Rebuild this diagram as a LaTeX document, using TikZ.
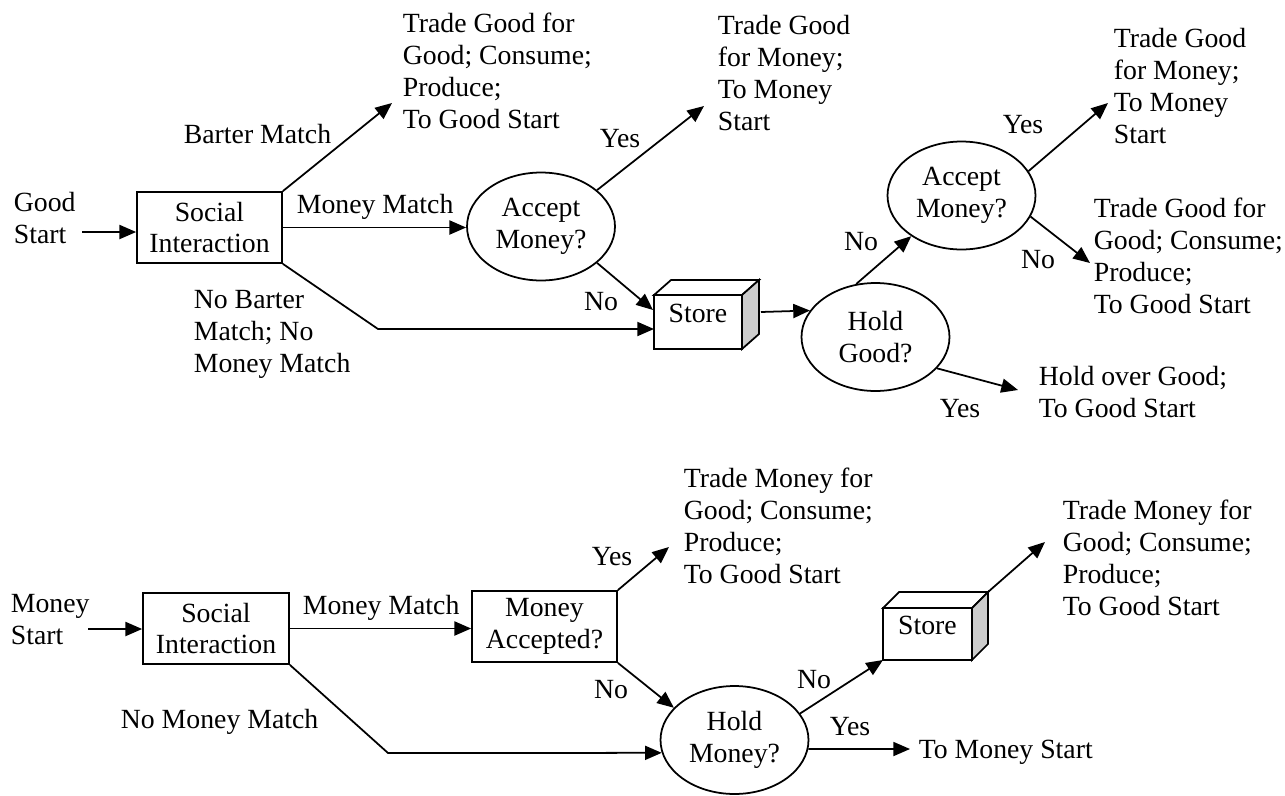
\documentclass[tikz,border=0pt]{standalone}
\usepackage{fontspec}
\setmainfont{Liberation Serif}
\usetikzlibrary{arrows.meta,shapes.geometric}
\begin{document}
\begin{tikzpicture}[x=0.02cm,y=-0.02cm,
  every node/.style={font=\fontsize{15.8pt}{18.2pt}\selectfont, inner sep=0pt},
  line width=1pt,
  arr/.style={-{Triangle[length=9.5pt,width=8pt]}},
  sbox/.style={draw, rectangle, align=center, minimum height=1.42cm},
  oval/.style={draw, ellipse, align=center, minimum width=2.96cm, minimum height=2.16cm},
  cube/.style={draw, rectangle, outer sep=0pt, fill=white, text height=10.5pt, text depth=9.5pt},
  txt/.style={align=left, anchor=base west},
  lbl/.style={anchor=base},
  sidefill/.style={fill=black!20}
]
\fill[white] (0,0) rectangle (1285,795);
\useasboundingbox (0,0) rectangle (1285,795);

% ---------- top diagram ----------
\node[txt] (gs) at (13,243) {Good\\Start};
\node[sbox, minimum width=2.9cm] (si1) at (209.5,227.5) {Social\\Interaction};
\node[oval] (acc1) at (541,226.5) {Accept\\Money?};
\node[cube, minimum width=1.76cm, minimum height=1.08cm] (st1) at (698,322) {Store};
\node[oval] (hg) at (875.5,337) {Hold\\Good?};
\node[oval] (acc2) at (961.5,195.5) {Accept\\Money?};

\filldraw[fill=white] (st1.north west) -- ([shift={(17,-15)}]st1.north west) -- ([shift={(17,-15)}]st1.north east) -- (st1.north east) -- cycle;
\filldraw[sidefill] (st1.north east) -- ([shift={(17,-15)}]st1.north east) -- ([shift={(17,-15)}]st1.south east) -- (st1.south east) -- cycle;

\node[txt] (t1) at (402,128) {Trade Good for\\Good; Consume;\\Produce;\\To Good Start};
\node[txt] (t2) at (717,130) {Trade Good\\for Money;\\To Money\\Start};
\node[txt] (t3) at (1113,143) {Trade Good\\for Money;\\To Money\\Start};
\node[txt] (t4) at (1093,313) {Trade Good for\\Good; Consume;\\Produce;\\To Good Start};
\node[txt] (t5) at (1038,417) {Hold over Good;\\To Good Start};
\node[txt] (nb) at (193,372) {No Barter\\Match; No\\Money Match};

\node[anchor=base east] (lbm) at (332,143) {Barter Match};
\node[anchor=base west] (lmm) at (296,213) {Money Match};
\node[lbl] (ly1) at (620,147) {Yes};
\node[lbl] (ln1) at (601,310) {No};
\node[lbl] (ln2) at (861,250) {No};
\node[lbl] (ly2) at (1023,133) {Yes};
\node[lbl] (ln3) at (1038,268) {No};
\node[lbl] (ly3) at (960,417) {Yes};

\coordinate (gsa) at (82,232);
\draw[arr] (gsa) -- (gsa -| si1.west);
\coordinate (bmt) at (392,103);
\draw[arr] (si1.north east) -- (bmt);
\draw[arr] (si1.east) -- (si1.east -| acc1.west);
\coordinate (nbc) at (378,329);
\draw[arr] (si1.south east) -- (nbc) -- (nbc -| st1.west);
\coordinate (noA) at (653,310);
\draw[arr] (acc1.-33) -- (noA);
\coordinate (yesA) at (704,106);
\draw[arr] (acc1.33) -- (yesA);
\draw[arr] ([shift={(19,-10)}]st1.east) -- (hg.158);
\draw[arr] (hg.110) -- (acc2.219);
\coordinate (yesB) at (1108,103);
\draw[arr] (acc2.20) -- (yesB);
\coordinate (noB) at (1090,263);
\draw[arr] (acc2.-17) -- (noB);
\coordinate (yesC) at (1018,390);
\draw[arr] (hg.-27) -- (yesC);

% ---------- bottom diagram ----------
\node[txt] (ms) at (10,644) {Money\\Start};
\node[sbox, minimum width=2.92cm] (si2) at (216,628.5) {Social\\Interaction};
\node[sbox, minimum width=2.9cm] (ma) at (544.5,626.5) {Money\\Accepted?};
\node[oval] (hm) at (734.5,740) {Hold\\Money?};
\node[cube, minimum width=1.78cm, minimum height=1.04cm] (st2) at (927.5,634) {Store};

\filldraw[fill=white] (st2.north west) -- ([shift={(16,-16)}]st2.north west) -- ([shift={(16,-16)}]st2.north east) -- (st2.north east) -- cycle;
\filldraw[sidefill] (st2.north east) -- ([shift={(16,-16)}]st2.north east) -- ([shift={(16,-16)}]st2.south east) -- (st2.south east) -- cycle;

\node[txt] (t6) at (683,583) {Trade Money for\\Good; Consume;\\Produce;\\To Good Start};
\node[txt] (t7) at (1062,615) {Trade Money for\\Good; Consume;\\Produce;\\To Good Start};
\node[txt] (tm) at (918,758) {To Money Start};

\node[anchor=base west] (lmm2) at (302,614) {Money Match};
\node[anchor=base west] (lnm) at (120,728) {No Money Match};
\node[lbl] (ly4) at (612,565) {Yes};
\node[lbl] (ln4) at (611,698) {No};
\node[lbl] (ln5) at (814,688) {No};
\node[lbl] (ly5) at (850,735) {Yes};

\coordinate (msa) at (88,629);
\draw[arr] (msa) -- (msa -| si2.west);
\draw[arr] (si2.east) -- (si2.east -| ma.west);
\coordinate (yesD) at (669,547);
\draw[arr] (ma.north east) -- (yesD);
\draw[arr] (ma.south east) -- (hm.152);
\coordinate (nmc) at (388,753);
\draw[arr] (si2.south east) -- (nmc) -- (hm.190);
\draw[arr] (hm.22) -- (st2.south west);
\coordinate (ymt) at (910,749);
\draw[arr] (hm.-7) -- (ymt);
\coordinate (yesE) at (1045,542);
\draw[arr] ([shift={(16,-16)}]st2.north east) -- (yesE);
\end{tikzpicture}
\end{document}
